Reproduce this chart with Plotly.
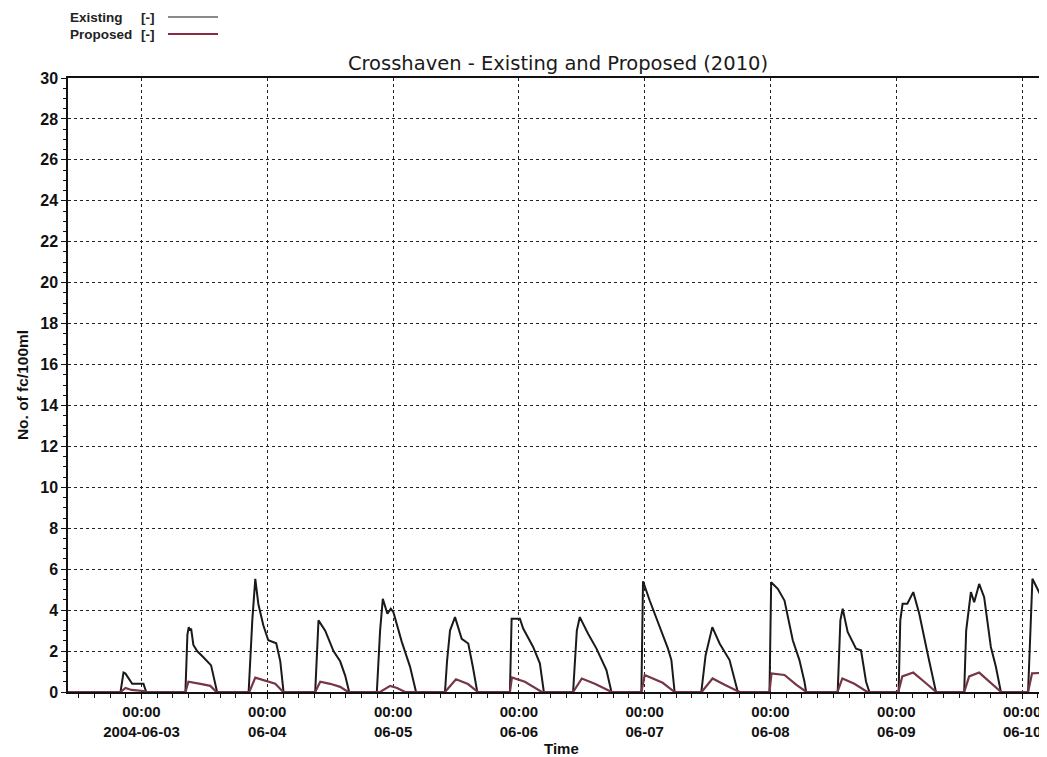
import pandas as pd
import plotly.graph_objects as go

BASE = pd.Timestamp("2004-06-03 00:00")

# Hours relative to 2004-06-03 00:00 and values
existing_hours = [
    -14.0, -4.0, -3.43, -3.05, -1.77, 0.38, 0.9,
    8.38, 8.76, 9.01, 9.24, 9.47, 9.9, 10.61, 11.81, 12.76, 13.28, 14.42,
    20.44, 21.14, 21.71, 22.29, 23.24, 24.19, 25.71, 26.48, 27.1,
    33.14, 33.77, 35.05, 36.63, 37.9, 38.86, 39.62,
    44.9, 45.52, 46.04, 46.91, 47.56, 48.06, 49.66, 51.24, 52.38,
    57.9, 58.29, 58.86, 59.81, 61.09, 62.34, 63.24, 64.06,
    70.29, 70.61, 72.19, 72.82, 74.72, 76.0, 76.76,
    82.34, 83.05, 83.62, 85.2, 86.8, 88.7, 89.66,
    95.37, 95.68, 96.95, 98.86, 100.44, 101.09, 101.71,
    106.8, 107.62, 108.9, 110.29, 112.19, 113.14, 113.77,
    119.81, 120.13, 121.39, 122.67, 124.25, 125.52, 126.48, 126.8,
    132.82, 133.33, 133.77, 134.72, 136.32, 137.27, 138.23, 138.86,
    144.44, 144.76, 145.2, 146.1, 147.24, 148.38, 149.97, 151.24, 151.57,
    156.95, 157.33, 158.23, 158.86, 159.81, 160.76, 162.04, 163.0, 163.95,
    169.14, 169.97, 171.24, 172.0, 172.8,
]
existing_values = [
    0, 0, 0.95, 0.9, 0.4, 0.4, 0,
    0, 2.8, 3.17, 3.0, 3.1, 2.3, 2.0, 1.7, 1.47, 1.3, 0,
    0, 3.5, 5.53, 4.3, 3.26, 2.53, 2.38, 1.5, 0,
    0, 3.5, 3.0, 2.0, 1.5, 0.8, 0,
    0, 3.0, 4.55, 3.82, 4.07, 3.9, 2.45, 1.23, 0,
    0, 1.5, 3.0, 3.66, 2.6, 2.37, 1.2, 0,
    0, 3.58, 3.58, 3.1, 2.2, 1.4, 0,
    0, 3.0, 3.66, 2.85, 2.12, 1.07, 0,
    0, 5.41, 4.47, 3.17, 2.12, 1.56, 0,
    0, 1.8, 3.17, 2.37, 1.56, 0.6, 0,
    0, 5.36, 5.04, 4.47, 2.53, 1.56, 0.5, 0,
    0, 3.5, 4.07, 2.93, 2.12, 2.04, 0.5, 0,
    0, 3.5, 4.31, 4.31, 4.88, 3.82, 1.88, 0.5, 0,
    0, 3.0, 4.88, 4.39, 5.28, 4.63, 2.2, 1.23, 0,
    0, 5.53, 4.88, 5.1, 5.3,
]

proposed_hours = [
    -14.0, -4.0, -3.05, -1.9, 0.38, 0.95,
    8.38, 8.95, 11.24, 13.14, 14.29,
    20.57, 21.71, 23.62, 25.52, 27.05,
    33.14, 34.1, 36.0, 37.9, 39.43,
    45.52, 47.43, 48.76, 50.29,
    57.9, 60.0, 62.29, 64.19,
    70.29, 70.67, 73.14, 76.38,
    82.34, 84.0, 86.48, 89.71,
    95.37, 96.0, 99.43, 101.71,
    106.86, 108.95, 111.24, 114.1,
    119.81, 120.19, 122.67, 124.95, 126.86,
    132.76, 133.71, 136.0, 138.48,
    144.38, 145.14, 147.24, 149.33, 151.62,
    156.95, 157.9, 159.81, 161.71, 164.0,
    169.14, 169.9, 172.8,
]
proposed_values = [
    0, 0, 0.2, 0.1, 0.05, 0,
    0, 0.5, 0.4, 0.3, 0,
    0, 0.7, 0.55, 0.4, 0,
    0, 0.5, 0.4, 0.25, 0,
    0, 0.3, 0.2, 0,
    0, 0.62, 0.39, 0,
    0, 0.71, 0.5, 0,
    0, 0.66, 0.4, 0,
    0, 0.83, 0.45, 0,
    0, 0.66, 0.35, 0,
    0, 0.91, 0.83, 0.35, 0,
    0, 0.66, 0.4, 0,
    0, 0.76, 0.95, 0.5, 0,
    0, 0.76, 0.95, 0.5, 0,
    0, 0.91, 0.95,
]

tick_dates = ["2004-06-03", "2004-06-04", "2004-06-05", "2004-06-06",
              "2004-06-07", "2004-06-08", "2004-06-09", "2004-06-10"]
tick_labels = ["00:00<br>2004-06-03", "00:00<br>06-04", "00:00<br>06-05",
               "00:00<br>06-06", "00:00<br>06-07", "00:00<br>06-08",
               "00:00<br>06-09", "00:00<br>06-10"]
y_ticks = list(range(0, 31, 2))

def to_time(hours):
    return [BASE + pd.Timedelta(hours=h) for h in hours]

FONT = "Liberation Sans, Arial, sans-serif"
TITLE_FONT = "DejaVu Sans, Verdana, sans-serif"
EXIST_COLOR = "#1a1a1a"
PROP_COLOR = "#763646"

# page body has an 8px margin: figure drawn at offset (8, 8)
OFF = 8
W, H = 1039, 749
ML, MT, MB, MR = 60, 70, 65, 0
PW = W - ML - MR
PH = H - MT - MB

def px_x(sx):
    return (sx - OFF - ML) / PW

def px_y(sy):
    return 1 - (sy - OFF - MT) / PH

fig = go.Figure()
fig.add_trace(go.Scatter(x=to_time(existing_hours), y=existing_values, mode="lines",
                         line=dict(color=EXIST_COLOR, width=2), name="Existing [-]",
                         showlegend=False))
fig.add_trace(go.Scatter(x=to_time(proposed_hours), y=proposed_values, mode="lines",
                         line=dict(color=PROP_COLOR, width=2.2), name="Proposed [-]",
                         showlegend=False))

x_start = BASE - pd.Timedelta(hours=14.02)
x_end = BASE + pd.Timedelta(hours=172.75)

fig.update_layout(
    width=W, height=H,
    margin=dict(l=ML, r=MR, t=MT, b=MB),
    paper_bgcolor="white", plot_bgcolor="white",
    title=dict(text="Crosshaven - Existing and Proposed (2010)", x=(558 - OFF) / W, xanchor="center",
               y=1 - (63 - OFF) / H, yanchor="middle", yref="container",
               font=dict(family=TITLE_FONT, size=19.5, color="#1a1a1a")),
    font=dict(family=FONT, color="#111"),
)

fig.update_xaxes(
    range=[x_start, x_end], type="date",
    tickmode="array", tickvals=tick_dates, ticktext=tick_labels,
    tickfont=dict(family=FONT, size=15, color="#111", weight="bold"),
    ticks="outside", ticklen=5, tickcolor="#111",
    showline=True, linecolor="#111", linewidth=2, mirror=True,
    showgrid=True, gridcolor="#222", griddash="dot", gridwidth=1,
    minor=dict(dtick=3 * 3600 * 1000, tick0="2004-06-03", ticks="outside", ticklen=4,
               tickcolor="#111", showgrid=False),
    zeroline=False,
)
fig.update_yaxes(
    range=[0, 30], tickmode="array", tickvals=y_ticks,
    tickfont=dict(family=FONT, size=16, color="#111", weight="bold"),
    ticks="outside", ticklen=5, tickcolor="#111",
    showline=True, linecolor="#111", linewidth=1.5,
    showgrid=True, gridcolor="#222", griddash="dot", gridwidth=1,
    minor=dict(dtick=0.5, ticks="outside", ticklen=3, tickcolor="#111", showgrid=False),
    title=dict(text="<b>No. of fc/100ml</b>", font=dict(family=FONT, size=15.5, color="#111"),
               standoff=8),
    zeroline=False,
)

# X axis title
fig.add_annotation(text="<b>Time</b>", xref="paper", yref="paper",
                   x=px_x(561), y=px_y(748), xanchor="center", yanchor="middle",
                   showarrow=False, font=dict(family=FONT, size=15, color="#111"))

# Legend in the top-left corner: text, "[-]", then a line sample (screen px positions)
legend_items = [("Existing", "#8a8a8a", 18), ("Proposed", "#8a2a40", 35)]
for text, color, sy in legend_items:
    fig.add_annotation(text="<b>" + text + "</b>", xref="paper", yref="paper",
                       x=px_x(68), y=px_y(sy), xanchor="left", yanchor="middle",
                       showarrow=False, font=dict(family=FONT, size=13.5, color="#222"))
    fig.add_annotation(text="<b>[-]</b>", xref="paper", yref="paper",
                       x=px_x(139), y=px_y(sy), xanchor="left", yanchor="middle",
                       showarrow=False, font=dict(family=FONT, size=13.5, color="#222"))
    fig.add_shape(type="line", xref="paper", yref="paper",
                  x0=px_x(168), x1=px_x(218), y0=px_y(sy - 1), y1=px_y(sy - 1),
                  line=dict(color=color, width=2))

fig.write_html("out.html")
